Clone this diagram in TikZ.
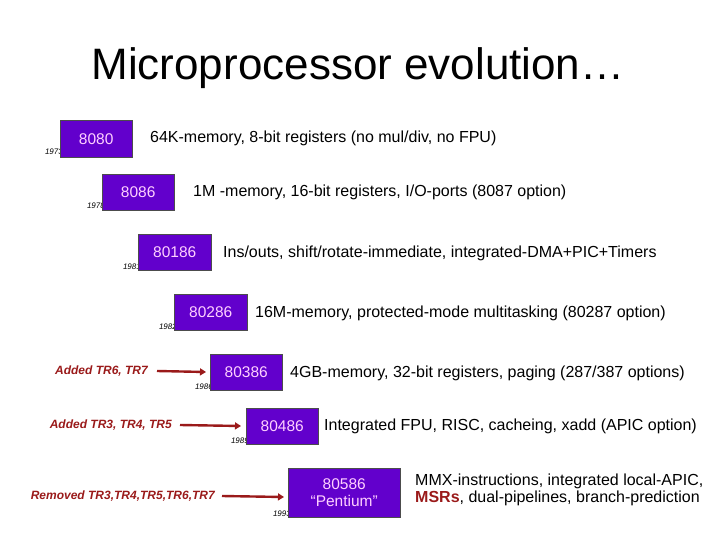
\documentclass[tikz,border=0pt]{standalone}
\usepackage{fontspec}
\setmainfont{Liberation Sans}
\usetikzlibrary{arrows.meta}
\definecolor{boxpurple}{HTML}{6200CC}
\definecolor{boxtext}{HTML}{FFD0FF}
\definecolor{darkred}{HTML}{9A1A1A}
\begin{document}
\begin{tikzpicture}[x=1pt,y=-1pt,
  chip/.style={draw=black!70,fill=boxpurple,text=boxtext,font=\fontsize{15.5}{17.5}\selectfont,inner sep=0pt,anchor=north west,align=center},
  desc/.style={anchor=west,font=\fontsize{16}{17}\selectfont,inner sep=0pt},
  yr/.style={anchor=base east,font=\fontsize{8}{9}\selectfont\itshape,inner sep=0pt},
  note/.style={anchor=east,font=\fontsize{12}{14}\selectfont\bfseries\itshape,text=darkred,inner sep=0pt},
  arr/.style={draw=darkred,line width=2.4pt,-{Triangle[length=6pt,width=7pt]}}]
\useasboundingbox (0,0) rectangle (720,540);
\node[anchor=center,font=\fontsize{44}{50}\selectfont] (title) at (358,68) {Microprocessor evolution…};
% years (drawn first so the boxes overlap them)
\node[yr] (y1) at (63,155) {1973};
\node[yr] (y2) at (105,209) {1978};
\node[yr] (y3) at (141,269) {1981};
\node[yr] (y4) at (177,329) {1982};
\node[yr] (y5) at (213,389) {1986};
\node[yr] (y6) at (249,443) {1989};
\node[yr] (y7) at (291,516) {1993};
% chips
\node[chip,minimum width=72pt,minimum height=37pt] (c1) at (60,120) {8080};
\node[chip,minimum width=72pt,minimum height=36pt] (c2) at (102,174) {8086};
\node[chip,minimum width=73pt,minimum height=36pt] (c3) at (138,234) {80186};
\node[chip,minimum width=73pt,minimum height=36pt] (c4) at (174,294) {80286};
\node[chip,minimum width=72pt,minimum height=36pt] (c5) at (210,354) {80386};
\node[chip,minimum width=72pt,minimum height=36pt] (c6) at (246,408) {80486};
\node[chip,minimum width=112pt,minimum height=49pt] (c7) at (288,468) {80586\\``Pentium''};
% descriptions
\node[desc] (d1) at (150,138) {64K-memory, 8-bit registers (no mul/div, no FPU)};
\node[desc] (d2) at (193,192) {1M -memory, 16-bit registers, I/O-ports (8087 option)};
\node[desc] (d3) at (223,253) {Ins/outs, shift/rotate-immediate, integrated-DMA+PIC+Timers};
\node[desc] (d4) at (255,313) {16M-memory, protected-mode multitasking (80287 option)};
\node[desc] (d5) at (290,373) {4GB-memory, 32-bit registers, paging (287/387 options)};
\node[desc] (d6) at (324,426) {Integrated FPU, RISC, cacheing, xadd (APIC option)};
\node[desc,align=left] (d7) at (415,490) {MMX-instructions, integrated local-APIC,\\{\color{darkred}\bfseries MSRs}, dual-pipelines, branch-prediction};
% notes and arrows
\node[note] (n1) at (148,371) {Added TR6, TR7};
\node[note] (n2) at (172,425) {Added TR3, TR4, TR5};
\node[note] (n3) at (215,496) {Removed TR3,TR4,TR5,TR6,TR7};
\coordinate (a1) at (206,372);
\coordinate (a2) at (241,426);
\coordinate (a3) at (284,497);
\draw[arr] ([xshift=9pt]n1.east) -- (a1);
\draw[arr] ([xshift=8pt]n2.east) -- (a2);
\draw[arr] ([xshift=7pt]n3.east) -- (a3);
\end{tikzpicture}
\end{document}
